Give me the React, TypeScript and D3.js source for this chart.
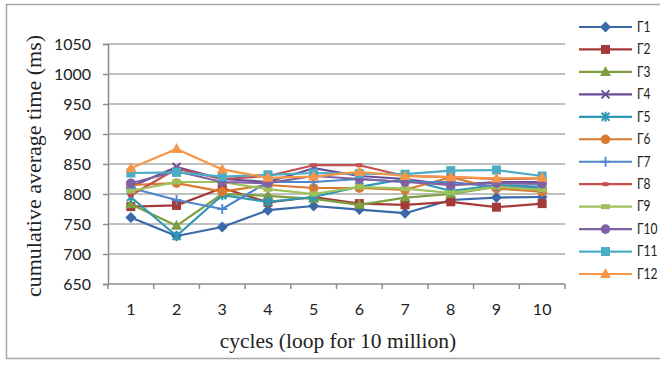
import React, { useRef, useEffect } from 'react';
import * as d3 from 'd3';

const cycles = [1, 2, 3, 4, 5, 6, 7, 8, 9, 10];
const yTicks = [650, 700, 750, 800, 850, 900, 950, 1000, 1050];
const seriesNames = ['Γ1', 'Γ2', 'Γ3', 'Γ4', 'Γ5', 'Γ6', 'Γ7', 'Γ8', 'Γ9', 'Γ10', 'Γ11', 'Γ12'];

const g1 = [761, 730, 745, 773, 780, 774, 768, 790, 794, 795];
const g2 = [779, 781, 810, 786, 795, 784, 782, 787, 778, 784];
const g3 = [783, 747, 800, 797, 792, 782, 794, 800, 812, 808];
const g4 = [812, 845, 825, 820, 843, 830, 825, 815, 820, 820];
const g5 = [795, 730, 798, 787, 795, 812, 825, 805, 815, 812];
const g6 = [815, 818, 804, 815, 810, 810, 807, 828, 809, 804];
const g7 = [810, 790, 775, 820, 820, 825, 820, 820, 812, 810];
const g8 = [798, 842, 825, 830, 848, 848, 830, 828, 825, 826];
const g9 = [805, 820, 820, 808, 800, 812, 809, 802, 812, 807];
const g10 = [818, 838, 820, 818, 830, 825, 820, 815, 818, 817];
const g11 = [835, 836, 829, 832, 835, 834, 833, 839, 840, 830];
const g12 = [843, 875, 841, 827, 829, 837, 830, 828, 826, 827];

const seriesValues = [g1, g2, g3, g4, g5, g6, g7, g8, g9, g10, g11, g12];
const colors = ['#3A68A8', '#A53B39', '#7F9D41', '#6B4C94', '#2E97B3', '#D97A2E',
  '#4E86CC', '#C4504D', '#9DC25C', '#7F62A3', '#4BACC6', '#F79646'];
const markers = ['diamond', 'square', 'triangle', 'x', 'asterisk', 'circle',
  'plus', 'dash', 'bar', 'circle', 'square', 'triangle'];

const tickFont = 'Lato, "Open Sans", sans-serif';
const titleFont = '"Liberation Serif", "Times New Roman", serif';

type Sel = d3.Selection<SVGGElement, unknown, null, undefined>;

// draw one marker centred on (x, y)
const drawMarker = (g: Sel, kind: string, x: number, y: number, color: string) => {
  switch (kind) {
    case 'diamond':
      g.append('path').attr('d', `M${x},${y - 5.5}L${x + 5.5},${y}L${x},${y + 5.5}L${x - 5.5},${y}Z`).attr('fill', color);
      break;
    case 'square':
      g.append('rect').attr('x', x - 4.5).attr('y', y - 4.5).attr('width', 9).attr('height', 9).attr('fill', color);
      break;
    case 'triangle':
      g.append('path').attr('d', `M${x},${y - 6}L${x + 5.5},${y + 4}L${x - 5.5},${y + 4}Z`).attr('fill', color);
      break;
    case 'circle':
      g.append('circle').attr('cx', x).attr('cy', y).attr('r', 4.8).attr('fill', color);
      break;
    case 'x':
      g.append('path').attr('d', `M${x - 4},${y - 4}L${x + 4},${y + 4}M${x - 4},${y + 4}L${x + 4},${y - 4}`)
        .attr('stroke', color).attr('stroke-width', 2);
      break;
    case 'asterisk':
      g.append('path').attr('d', `M${x - 4},${y - 4}L${x + 4},${y + 4}M${x - 4},${y + 4}L${x + 4},${y - 4}M${x},${y - 5}L${x},${y + 5}`)
        .attr('stroke', color).attr('stroke-width', 2);
      break;
    case 'plus':
      g.append('path').attr('d', `M${x - 5},${y}L${x + 5},${y}M${x},${y - 5}L${x},${y + 5}`)
        .attr('stroke', color).attr('stroke-width', 1.8);
      break;
    case 'dash':
      g.append('rect').attr('x', x - 3).attr('y', y - 2).attr('width', 6).attr('height', 4).attr('fill', color);
      break;
    case 'bar':
      g.append('rect').attr('x', x - 4.5).attr('y', y - 2.5).attr('width', 9).attr('height', 5).attr('fill', color);
      break;
  }
};

const App: React.FC = () => {
  const svgRef = useRef<SVGSVGElement>(null);
  const width = 660;
  const height = 365;

  useEffect(() => {
    if (!svgRef.current) return;
    const svg = d3.select(svgRef.current);
    svg.selectAll('*').remove();

    const plot = { left: 108, right: 565, top: 44, bottom: 284 };

    const xScale = d3.scaleBand<number>()
      .domain(cycles)
      .range([plot.left, plot.right]);

    const yScale = d3.scaleLinear()
      .domain([650, 1050])
      .range([plot.bottom, plot.top]);

    // outer frame
    svg.append('rect')
      .attr('x', 6.5).attr('y', 4.5)
      .attr('width', 670).attr('height', 354)
      .attr('fill', 'none')
      .attr('stroke', '#A6A6A6')
      .attr('stroke-width', 1.5);

    // horizontal grid
    svg.append('g')
      .selectAll('line')
      .data(yTicks.slice(1))
      .join('line')
      .attr('x1', plot.left).attr('x2', plot.right)
      .attr('y1', d => yScale(d)).attr('y2', d => yScale(d))
      .attr('stroke', '#ABABAB')
      .attr('stroke-width', 1.5);

    // y axis
    const yAxis = svg.append('g')
      .attr('transform', `translate(${plot.left},0)`)
      .call(d3.axisLeft(yScale).tickValues(yTicks).tickFormat(d3.format('d')).tickSize(5).tickPadding(12));
    yAxis.select('.domain').attr('stroke', '#8C8C8C').attr('stroke-width', 1.5);
    yAxis.selectAll('.tick line').attr('stroke', '#8C8C8C').attr('stroke-width', 1.5);
    yAxis.selectAll('.tick text')
      .attr('font-family', tickFont).attr('font-size', 16).attr('fill', '#222');

    // x axis
    const xAxis = svg.append('g')
      .attr('transform', `translate(0,${plot.bottom})`)
      .call(d3.axisBottom(xScale).tickSize(0).tickPadding(20));
    xAxis.select('.domain').remove();
    xAxis.selectAll('.tick text')
      .attr('font-family', tickFont).attr('font-size', 16).attr('fill', '#222');
    svg.append('line')
      .attr('x1', plot.left).attr('x2', plot.right)
      .attr('y1', plot.bottom).attr('y2', plot.bottom)
      .attr('stroke', '#8C8C8C').attr('stroke-width', 1.5);
    const boundaries = [...cycles.map(c => xScale(c) as number), plot.right];
    svg.append('g')
      .selectAll('line')
      .data(boundaries)
      .join('line')
      .attr('x1', d => d).attr('x2', d => d)
      .attr('y1', plot.bottom).attr('y2', plot.bottom + 5)
      .attr('stroke', '#8C8C8C').attr('stroke-width', 1.5);

    // series
    const cx = (c: number) => (xScale(c) as number) + xScale.bandwidth() / 2;
    const line = d3.line<number>()
      .x((_, i) => cx(cycles[i]))
      .y(d => yScale(d));

    seriesValues.forEach((vals, si) => {
      const g = svg.append('g');
      g.append('path')
        .datum(vals)
        .attr('fill', 'none')
        .attr('stroke', colors[si])
        .attr('stroke-width', 2.2)
        .attr('stroke-linejoin', 'round')
        .attr('d', line);
      vals.forEach((v, i) => drawMarker(g, markers[si], cx(cycles[i]), yScale(v), colors[si]));
    });

    // legend
    const legendY = d3.scalePoint<string>()
      .domain(seriesNames)
      .range([27, 274]);
    seriesNames.forEach((name, si) => {
      const y = legendY(name) as number;
      const g = svg.append('g');
      g.append('line')
        .attr('x1', 579).attr('x2', 632)
        .attr('y1', y).attr('y2', y)
        .attr('stroke', colors[si]).attr('stroke-width', 2.2);
      drawMarker(g, markers[si], 605.5, y, colors[si]);
      // labels are narrower in the original, squeeze horizontally
      g.append('text')
        .attr('transform', `translate(637,${y + 1}) scale(0.8,1)`)
        .attr('dominant-baseline', 'middle')
        .attr('font-family', tickFont).attr('font-size', 15)
        .attr('fill', '#222')
        .text(name);
    });

    // axis titles
    svg.append('text')
      .attr('x', 338)
      .attr('y', 348)
      .attr('text-anchor', 'middle')
      .attr('font-family', titleFont).attr('font-size', 21.5)
      .attr('fill', '#222')
      .text('cycles (loop for 10 million)');

    svg.append('text')
      .attr('transform', `translate(41,166) rotate(-90)`)
      .attr('text-anchor', 'middle')
      .attr('font-family', titleFont).attr('font-size', 22)
      .attr('fill', '#222')
      .text('cumulative average time (ms)');
  }, []);

  return (
    <div style={{ position: 'absolute', left: 0, top: 0 }}>
      <svg ref={svgRef} width={width} height={height} style={{ display: 'block', background: '#fff' }} />
    </div>
  );
};

export default App;
